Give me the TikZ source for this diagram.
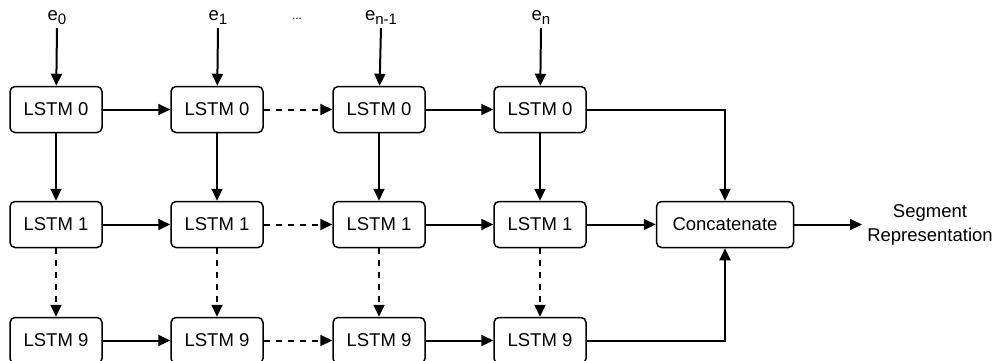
\documentclass[tikz,border=0pt]{standalone}
\usepackage{fontspec}
\setmainfont{Liberation Sans}
\usetikzlibrary{arrows.meta}

\newcommand{\esub}[1]{e{\fontsize{15}{15}\selectfont\raisebox{-4pt}{#1}}}

\tikzset{
  cell/.style={draw, rounded corners=5pt, line width=1.5pt, minimum width=92pt, minimum height=46pt, inner sep=0pt, font=\fontsize{18.5}{22}\selectfont},
  inlabel/.style={inner sep=0pt, font=\fontsize{18.5}{22}\selectfont},
  flow/.style={-{Triangle[length=12pt,width=11pt]}, line width=2pt},
  skip/.style={flow, dash pattern=on 6pt off 6pt}
}

\begin{document}
\begin{tikzpicture}[x=1pt,y=-1pt]
\useasboundingbox (0,0) rectangle (995,360);
% Inputs
\node[inlabel] (e0) at (57,18) {\esub{0}};
\node[inlabel] (e1) at (218,18) {\esub{1}};
\node[inner sep=0pt, font=\fontsize{12}{14}\selectfont] (dots) at (297,19) {...};
\node[inlabel] (e2) at (381,18) {\esub{n-1}};
\node[inlabel] (e3) at (541,18) {\esub{n}};

% Cells
\foreach \c/\x in {0/56,1/217,2/379,3/540}{
  \node[cell] (a\c) at (\x,109.5) {LSTM 0};
  \node[cell] (b\c) at (\x,224.5) {LSTM 1};
  \node[cell] (c\c) at (\x,340.5) {LSTM 9};
}
\node[cell, minimum width=137pt] (cat) at (725,224.5) {Concatenate};
\node[align=center, inner sep=0pt, font=\fontsize{18.5}{24}\selectfont] (out) at (930,225) {Segment\\Representation};
\coordinate (end) at (862,224.5);

%Lines
\foreach \c in {0,1,2,3}{
  \draw[flow] (e\c.south |- 0,28) -- (a\c);
  \draw[flow] (a\c) -- (b\c);
  \draw[skip] (b\c) -- (c\c);
}
\draw[flow] (a0) -- (a1);
\draw[skip] (a1) -- (a2);
\draw[flow] (a2) -- (a3);
\draw[flow] (b0) -- (b1);
\draw[skip] (b1) -- (b2);
\draw[flow] (b2) -- (b3);
\draw[flow] (c0) -- (c1);
\draw[skip] (c1) -- (c2);
\draw[flow] (c2) -- (c3);
\draw[flow] (a3) -| (cat);
\draw[flow] (b3) -- (cat);
\draw[flow] (c3) -| (cat);
\draw[flow] (cat) -- (end);
\end{tikzpicture}
\end{document}
